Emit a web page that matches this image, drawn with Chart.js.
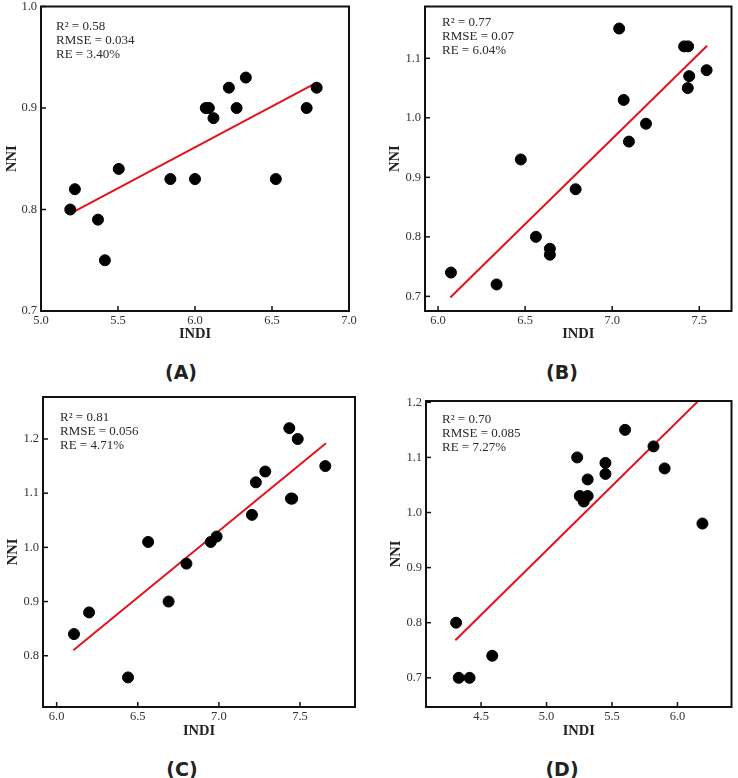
<!DOCTYPE html>
<html>
<head>
<meta charset="utf-8">
<script src="https://cdn.jsdelivr.net/npm/chart.js@4/dist/chart.umd.min.js"></script>
<style>
  body { margin: 0; background: #fff; width: 738px; height: 778px; position: relative; overflow: hidden; }
  canvas { position: absolute; }
  .tag { position: absolute; width: 100px; text-align: center; font: bold 19px "DejaVu Sans", sans-serif; line-height: 22px; color: #222; }
</style>
</head>
<body>
<canvas id="cA" width="360" height="346" style="left:0px;top:0px"></canvas>
<canvas id="cB" width="355" height="346" style="left:383px;top:0px"></canvas>
<canvas id="cC" width="364" height="353" style="left:1px;top:390px"></canvas>
<canvas id="cD" width="354" height="353" style="left:384px;top:390px"></canvas>
<div class="tag" style="left:131px;top:361px">(A)</div>
<div class="tag" style="left:512px;top:361px">(B)</div>
<div class="tag" style="left:132px;top:758px">(C)</div>
<div class="tag" style="left:512px;top:758px">(D)</div>
<script>
// data
const indiA = [5.19, 5.22, 5.37, 5.415, 5.505, 5.84, 6.0, 6.07, 6.09, 6.12, 6.22, 6.27, 6.33, 6.525, 6.725, 6.79];
const nniA  = [0.80, 0.82, 0.79, 0.75, 0.84, 0.83, 0.83, 0.90, 0.90, 0.89, 0.92, 0.90, 0.93, 0.83, 0.90, 0.92];
const fitXA = [5.19, 6.79];
const fitYA = [0.796, 0.925];
const statsA = ['R\u00B2 = 0.58', 'RMSE = 0.034', 'RE = 3.40%'];

const indiB = [6.074, 6.336, 6.475, 6.562, 6.642, 6.642, 6.79, 7.04, 7.066, 7.096, 7.194, 7.413, 7.436, 7.434, 7.442, 7.542];
const nniB  = [0.74, 0.72, 0.93, 0.80, 0.78, 0.77, 0.88, 1.15, 1.03, 0.96, 0.99, 1.12, 1.12, 1.05, 1.07, 1.08];
const fitXB = [6.07, 7.545];
const fitYB = [0.698, 1.121];
const statsB = ['R\u00B2 = 0.77', 'RMSE = 0.07', 'RE = 6.04%'];

const indiC = [6.107, 6.20, 6.44, 6.564, 6.69, 6.80, 6.95, 6.986, 7.204, 7.228, 7.286, 7.434, 7.444, 7.452, 7.486, 7.656];
const nniC  = [0.84, 0.88, 0.76, 1.01, 0.90, 0.97, 1.01, 1.02, 1.06, 1.12, 1.14, 1.22, 1.09, 1.09, 1.20, 1.15];
const fitXC = [6.103, 7.66];
const fitYC = [0.81, 1.192];
const statsC = ['R\u00B2 = 0.81', 'RMSE = 0.056', 'RE = 4.71%'];

const indiD = [4.309, 4.329, 4.412, 4.585, 5.234, 5.254, 5.284, 5.314, 5.314, 5.45, 5.45, 5.60, 5.817, 5.902, 6.191];
const nniD  = [0.80, 0.70, 0.70, 0.74, 1.10, 1.03, 1.02, 1.03, 1.06, 1.09, 1.07, 1.15, 1.12, 1.08, 0.98];
const fitXD = [4.303, 6.17];
const fitYD = [0.768, 1.205];
const statsD = ['R\u00B2 = 0.70', 'RMSE = 0.085', 'RE = 7.27%'];

const xTitle = 'INDI';
const yTitle = 'NNI';

const toPoints = (xs, ys) => xs.map((x, i) => ({ x: x, y: ys[i] }));

// frame, inward ticks and the stats text
const framePlugin = {
  id: 'frame',
  afterDraw(chart, args, opts) {
    const ctx = chart.ctx;
    const a = chart.chartArea;
    ctx.save();
    ctx.strokeStyle = '#111';
    ctx.lineWidth = 1.5;
    chart.scales.x.ticks.forEach(t => {
      const px = chart.scales.x.getPixelForValue(t.value);
      ctx.beginPath();
      ctx.moveTo(px, a.bottom);
      ctx.lineTo(px, a.bottom - 5);
      ctx.stroke();
    });
    chart.scales.y.ticks.forEach(t => {
      const py = chart.scales.y.getPixelForValue(t.value);
      ctx.beginPath();
      ctx.moveTo(a.left, py);
      ctx.lineTo(a.left + 5, py);
      ctx.stroke();
    });
    ctx.lineWidth = 2;
    ctx.strokeRect(a.left, a.top, a.right - a.left, a.bottom - a.top);
    ctx.fillStyle = '#2a2a2a';
    ctx.font = '13px "Liberation Serif", serif';
    ctx.textBaseline = 'middle';
    opts.lines.forEach((s, i) => {
      ctx.fillText(s, a.left + opts.dx, a.top + opts.dy + i * 14);
    });
    ctx.restore();
  }
};

const makeChart = (id, xs, ys, fx, fy, stats, g) => {
  const ctx = document.getElementById(id).getContext('2d');
  return new Chart(ctx, {
    type: 'scatter',
    data: {
      datasets: [
        {
          data: toPoints(xs, ys),
          backgroundColor: '#000',
          borderColor: '#000',
          pointRadius: 5.5,
          pointHoverRadius: 5.5,
        },
        {
          data: toPoints(fx, fy),
          showLine: true,
          borderColor: '#e3131b',
          borderWidth: 2,
          pointRadius: 0,
        },
      ],
    },
    options: {
      responsive: false,
      animation: false,
      layout: { padding: { top: g.padTop, right: g.padRight, left: 0, bottom: 0 } },
      plugins: {
        legend: { display: false },
        tooltip: { enabled: false },
        frame: { lines: stats, dx: g.dx, dy: g.dy },
      },
      scales: {
        x: {
          type: 'linear',
          min: g.xMin, max: g.xMax,
          grid: { display: false, drawTicks: false },
          border: { display: false },
          ticks: {
            stepSize: 0.5, includeBounds: false, padding: 2, color: '#333',
            font: { family: '"Liberation Serif", serif', size: 12.5 },
            callback: v => v.toFixed(1),
          },
          title: {
            display: true, text: xTitle, color: '#222', padding: 3,
            font: { family: '"Liberation Serif", serif', size: 14.5, weight: 'bold' },
          },
          afterFit: s => { s.height = g.xH; s.paddingLeft = 0; s.paddingRight = 0; },
        },
        y: {
          type: 'linear',
          min: g.yMin, max: g.yMax,
          grid: { display: false, drawTicks: false },
          border: { display: false },
          ticks: {
            stepSize: 0.1, includeBounds: false, padding: 4, color: '#333',
            font: { family: '"Liberation Serif", serif', size: 12.5 },
            callback: v => v.toFixed(1),
          },
          title: {
            display: true, text: yTitle, color: '#222', padding: 4,
            font: { family: '"Liberation Serif", serif', size: 14.5, weight: 'bold' },
          },
          afterFit: s => { s.width = g.yW; s.paddingTop = 0; s.paddingBottom = 0; },
        },
      },
    },
    plugins: [framePlugin],
  });
};

makeChart('cA', indiA, nniA, fitXA, fitYA, statsA,
  { xMin: 5.0, xMax: 7.0, yMin: 0.7, yMax: 1.0, padTop: 5, padRight: 11, yW: 41, xH: 35, dx: 15, dy: 20 });
makeChart('cB', indiB, nniB, fitXB, fitYB, statsB,
  { xMin: 5.925, xMax: 7.685, yMin: 0.6754, yMax: 1.187, padTop: 5, padRight: 2, yW: 42, xH: 35, dx: 17, dy: 16 });
makeChart('cC', indiC, nniC, fitXC, fitYC, statsC,
  { xMin: 5.916, xMax: 7.839, yMin: 0.7054, yMax: 1.2775, padTop: 7, padRight: 10, yW: 42, xH: 36, dx: 17, dy: 21 });
makeChart('cD', indiD, nniD, fitXD, fitYD, statsD,
  { xMin: 4.079, xMax: 6.413, yMin: 0.647, yMax: 1.2024, padTop: 11, padRight: 3, yW: 42, xH: 36, dx: 16, dy: 19 });
</script>
</body>
</html>
